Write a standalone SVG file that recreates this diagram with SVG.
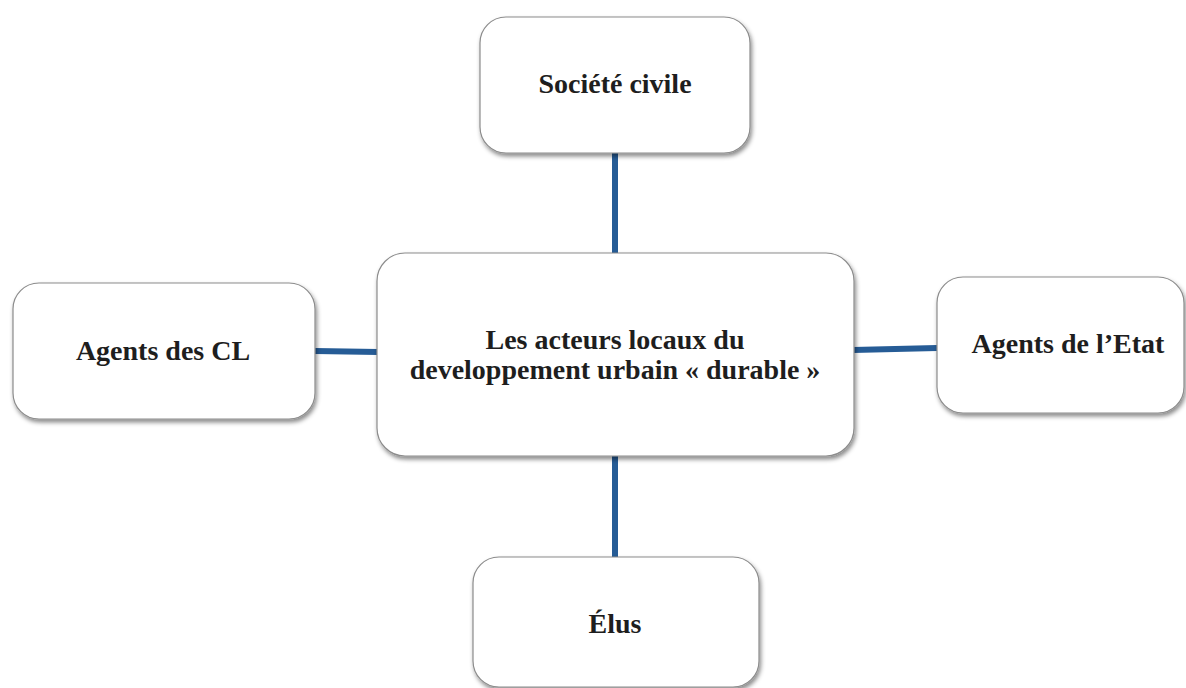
<svg xmlns="http://www.w3.org/2000/svg" width="1186" height="688" viewBox="0 0 1186 688">
<defs>
<filter id="sh" x="-10%" y="-10%" width="120%" height="130%">
<feDropShadow dx="1.5" dy="3" stdDeviation="2" flood-color="#000" flood-opacity="0.45"/>
</filter>
<style>
.box{fill:#fff;stroke:#8c8c8c;stroke-width:1.2;filter:url(#sh)}
.lbl{font-family:"Liberation Serif","Times New Roman",serif;font-weight:bold;font-size:28px;fill:#1e1e1e;text-anchor:middle}
.con{stroke:#265c96;stroke-width:6;fill:none}
</style>
</defs>
<rect width="1186" height="688" fill="#fff"/>
<g id="connectors">
<line class="con" x1="615" y1="153" x2="615" y2="254"/>
<line class="con" x1="315" y1="351" x2="378" y2="352"/>
<line class="con" x1="853" y1="350" x2="937" y2="348"/>
<line class="con" x1="615" y1="456" x2="615" y2="557"/>
</g>
<g id="node-societe">
<rect class="box" x="480" y="17" width="270" height="136" rx="26" ry="26"/>
<text class="lbl" x="615" y="93">Société civile</text>
</g>
<g id="node-centre">
<rect class="box" x="377" y="253" width="477" height="203" rx="28" ry="28"/>
<text class="lbl" x="615" y="349">Les acteurs locaux du</text>
<text class="lbl" x="615" y="379">developpement urbain « durable »</text>
</g>
<g id="node-agents-cl">
<rect class="box" x="13" y="283" width="302" height="136" rx="26" ry="26"/>
<text class="lbl" x="163" y="360">Agents des CL</text>
</g>
<g id="node-agents-etat">
<rect class="box" x="937" y="277" width="247" height="136" rx="26" ry="26"/>
<text class="lbl" x="1068" y="353">Agents de l’Etat</text>
</g>
<g id="node-elus">
<rect class="box" x="473" y="557" width="286" height="130" rx="26" ry="26"/>
<text class="lbl" x="615" y="633">Élus</text>
</g>
</svg>
